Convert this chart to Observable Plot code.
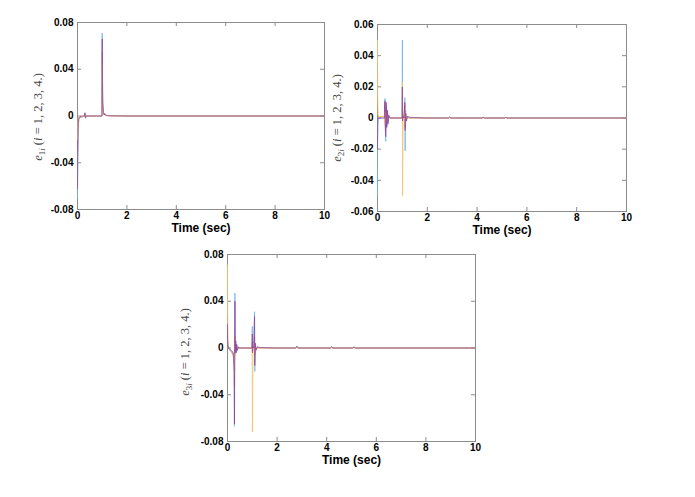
<!DOCTYPE html>
<html>
<head>
<meta charset="utf-8">
<script src="https://cdn.jsdelivr.net/npm/d3@7"></script>
<script src="https://cdn.jsdelivr.net/npm/@observablehq/plot@0.6"></script>
<style>
  html, body { margin: 0; padding: 0; background: #fff; }
  #wrap { position: relative; width: 695px; height: 497px; background: #fff; overflow: hidden; }
  .panel { position: absolute; }
  .panel svg text { font-weight: bold; }
  .ylab { position: absolute; white-space: nowrap; font-family: "Liberation Serif", "DejaVu Serif", serif; font-size: 12.5px; color: #444;
          transform: translate(-50%, -50%) rotate(-90deg); }
  .ylab sub { font-size: 0.72em; vertical-align: -0.25em; }
</style>
</head>
<body>
<div id="wrap"></div>
<script>
// ---------- data ----------
const xTicks = [0, 2, 4, 6, 8, 10];
const y1Ticks = [-0.08, -0.04, 0, 0.04, 0.08];
const y2Ticks = [-0.06, -0.04, -0.02, 0, 0.02, 0.04, 0.06];
const y3Ticks = [-0.08, -0.04, 0, 0.04, 0.08];
const seriesNames = ["i = 1", "i = 2", "i = 3", "i = 4"];
const seriesColors = ["#6fb6e6", "#d9531a", "#f2c66e", "#8e3f9e"];

// panel 1: e_1i
const t1 = [0, 0.01, 0.03, 0.06, 0.1, 0.2, 0.28, 0.3, 0.32, 0.35, 0.5, 0.99, 1.0, 1.02, 1.05, 1.08, 1.1, 1.15, 1.3, 2, 10];
const e1_1 = [-0.070, -0.040, -0.008, -0.002, -0.001, -0.0005, 0, 0.003, -0.002, 0, 0, 0, 0.071, 0.012, 0.003, 0.001, 0.002, 0.0005, 0.0002, 0, 0];
const e1_2 = [-0.030, -0.012, -0.003, -0.002, -0.0015, -0.0008, -0.0003, 0.002, -0.001, 0, 0, 0, 0.055, 0.010, 0.003, 0.001, 0.0015, 0.0005, 0.0002, 0, 0];
const e1_3 = [-0.020, -0.008, -0.002, -0.001, -0.0005, 0, 0, 0.001, -0.0005, 0, 0, 0, 0.045, 0.008, 0.002, 0.001, 0.001, 0.0004, 0.0001, 0, 0];
const e1_4 = [-0.062, -0.035, -0.007, -0.0015, -0.0005, 0, 0, 0.0025, -0.0015, 0, 0, 0, 0.066, 0.011, 0.003, 0.001, 0.002, 0.0005, 0.0002, 0, 0];

// panel 2: e_2i
const t2 = [0, 0.005, 0.02, 0.05, 0.2, 0.28, 0.3, 0.31, 0.33, 0.35, 0.37, 0.4, 0.42, 0.45, 0.5, 0.99, 1.0, 1.005, 1.03, 1.06, 1.1, 1.11, 1.13, 1.16, 1.2, 1.3, 1.5, 2.0, 2.85, 2.9, 2.95, 4.2, 4.25, 4.3, 5.1, 5.15, 5.2, 10];
const e2_1 = [-0.050, -0.015, -0.001, 0, 0, 0, 0.0125, -0.004, -0.015, 0.008, -0.006, 0.004, -0.003, 0.001, 0, 0, 0.050, 0.002, 0.001, 0, 0.013, -0.021, 0.005, -0.002, 0.001, 0, 0, 0, 0, 0.0006, 0, 0, 0.0004, 0, 0, 0.0004, 0, 0];
const e2_2 = [0.010, 0.003, 0.001, 0.0008, 0.0008, 0.001, 0.010, -0.003, -0.008, 0.006, -0.004, 0.003, -0.002, 0.001, 0, 0, 0.020, 0.001, 0.001, 0, 0.008, -0.006, 0.003, -0.001, 0.0005, 0, 0, 0, 0, 0.0004, 0, 0, 0.0003, 0, 0, 0.0003, 0, 0];
const e2_3 = [0.050, 0.015, 0.002, 0.001, 0.001, 0.001, 0.004, -0.002, -0.004, 0.003, -0.002, 0.001, -0.001, 0, 0, 0, 0.023, -0.050, 0.001, 0, 0.004, -0.004, 0.002, -0.001, 0, 0, 0, 0, 0, 0.0003, 0, 0, 0.0002, 0, 0, 0.0002, 0, 0];
const e2_4 = [-0.020, -0.005, 0, 0, 0, 0, 0.011, -0.004, -0.012, 0.010, -0.006, 0.005, -0.004, 0.002, 0, 0, 0.020, -0.002, 0.001, 0, 0.010, -0.008, 0.003, -0.002, 0.001, 0.0005, 0.0003, 0, 0, 0.0006, 0, 0, 0.0004, 0, 0, 0.0004, 0, 0];

// panel 3: e_3i
const t3 = [0, 0.005, 0.02, 0.05, 0.1, 0.15, 0.2, 0.24, 0.27, 0.28, 0.29, 0.3, 0.31, 0.33, 0.35, 0.37, 0.4, 0.43, 0.46, 0.5, 0.99, 1.0, 1.005, 1.03, 1.06, 1.09, 1.1, 1.12, 1.15, 1.2, 1.3, 1.5, 2.0, 2.75, 2.8, 2.85, 4.15, 4.2, 4.25, 5.05, 5.1, 5.15, 10];
const e3_1 = [0.005, 0.002, 0.001, -0.001, -0.002, -0.003, -0.004, -0.006, -0.015, -0.067, -0.010, 0.047, -0.005, 0.006, -0.004, 0.003, -0.002, 0.001, 0, 0, 0, 0.0185, 0, 0.001, 0, 0.031, -0.020, 0.004, -0.002, 0.001, 0, 0, 0, 0, 0.0015, 0, 0, 0.001, 0, 0, 0.001, 0, 0];
const e3_2 = [0.010, 0.003, 0.0005, -0.001, -0.002, -0.003, -0.005, -0.008, -0.020, -0.033, -0.005, 0.010, -0.002, 0.003, -0.002, 0.001, -0.001, 0, 0, 0, 0, 0.005, -0.003, 0.001, 0, 0.010, -0.006, 0.002, -0.001, 0, 0, 0, 0, 0, 0.001, 0, 0, 0.0005, 0, 0, 0.0005, 0, 0];
const e3_3 = [0.071, 0.030, 0.006, 0.001, -0.001, -0.002, -0.003, -0.004, -0.012, -0.024, -0.003, 0.006, -0.002, 0.002, -0.001, 0.001, 0, 0, 0, 0, 0, -0.020, -0.072, 0.001, 0, 0.004, -0.003, 0.001, 0, 0, 0, 0, 0, 0, 0.0005, 0, 0, 0, 0, 0, 0, 0, 0];
const e3_4 = [0.020, 0.006, 0.002, 0, -0.001, -0.002, -0.003, -0.005, -0.020, -0.065, -0.008, 0.040, -0.004, 0.006, -0.004, 0.003, -0.002, 0.001, 0, 0, 0, 0.012, -0.004, 0.001, 0, 0.027, -0.015, 0.004, -0.002, 0.001, 0.0005, 0.0003, 0, 0, 0.0015, 0, 0, 0.001, 0, 0, 0.001, 0, 0];

// ---------- drawing ----------
const wrap = document.getElementById("wrap");
const fmt = d => d === 0 ? "0" : d.toFixed(2);
const gray = "#8c8c8c";
const opac = [0.8, 0.45, 0.85, 0.7];

function panel({t, series, yDomain, yTicks, left, top, width, height, mL, mR, mT, mB}) {
  const fw = width - mL - mR, fh = height - mT - mB;
  const lines = series.map((vals, s) =>
    Plot.line(t.map((tt, k) => ({t: tt, v: vals[k], s: seriesNames[s]})),
      {x: "t", y: "v", stroke: seriesColors[s], strokeWidth: 1, strokeOpacity: opac[s]})
  );
  const svg = Plot.plot({
    width, height, marginLeft: mL, marginRight: mR, marginTop: mT, marginBottom: mB,
    style: {fontFamily: "Liberation Sans, Arial, sans-serif", fontSize: "10px", background: "transparent", color: "#000"},
    x: {domain: [0, 10]},
    y: {domain: yDomain},
    marks: [
      Plot.frame({stroke: gray, strokeWidth: 1}),
      Plot.tickY(yTicks, {y: d => d, insetRight: fw - 4, stroke: gray}),
      Plot.tickY(yTicks, {y: d => d, insetLeft: fw - 4, stroke: gray}),
      Plot.tickX(xTicks, {x: d => d, insetTop: fh - 4, stroke: gray}),
      Plot.tickX(xTicks, {x: d => d, insetBottom: fh - 4, stroke: gray}),
      ...lines,
      Plot.axisX({ticks: xTicks, tickSize: 0, tickPadding: 2, tickFormat: d => String(d), label: null}),
      Plot.axisY({ticks: yTicks, tickSize: 0, tickPadding: 4, tickFormat: fmt, label: null}),
      Plot.text(["Time (sec)"], {frameAnchor: "bottom", dy: 22, text: d => d, fontSize: 12, fontWeight: "bold"})
    ]
  });
  const div = document.createElement("div");
  div.className = "panel";
  div.style.left = left + "px";
  div.style.top = top + "px";
  div.appendChild(svg);
  wrap.appendChild(div);
}

function ylabel(k, cx, cy) {
  const d = document.createElement("div");
  d.className = "ylab";
  d.style.left = cx + "px";
  d.style.top = cy + "px";
  d.innerHTML = `<i>e</i><sub>${k}<i>i</i></sub> (<i>i</i> = 1, 2, 3, 4.)`;
  wrap.appendChild(d);
}

panel({t: t1, series: [e1_1, e1_2, e1_3, e1_4], yDomain: [-0.08, 0.08], yTicks: y1Ticks,
  left: 0, top: 0, width: 340, height: 240, mL: 77, mR: 16, mT: 22, mB: 31});
panel({t: t2, series: [e2_1, e2_2, e2_3, e2_4], yDomain: [-0.06, 0.06], yTicks: y2Ticks,
  left: 340, top: 0, width: 300, height: 240, mL: 37, mR: 14, mT: 24, mB: 29});
panel({t: t3, series: [e3_1, e3_2, e3_3, e3_4], yDomain: [-0.08, 0.08], yTicks: y3Ticks,
  left: 170, top: 240, width: 320, height: 257, mL: 57, mR: 15, mT: 14, mB: 56});

ylabel(1, 39, 117);
ylabel(2, 338, 118);
ylabel(3, 186, 352);
</script>
</body>
</html>
